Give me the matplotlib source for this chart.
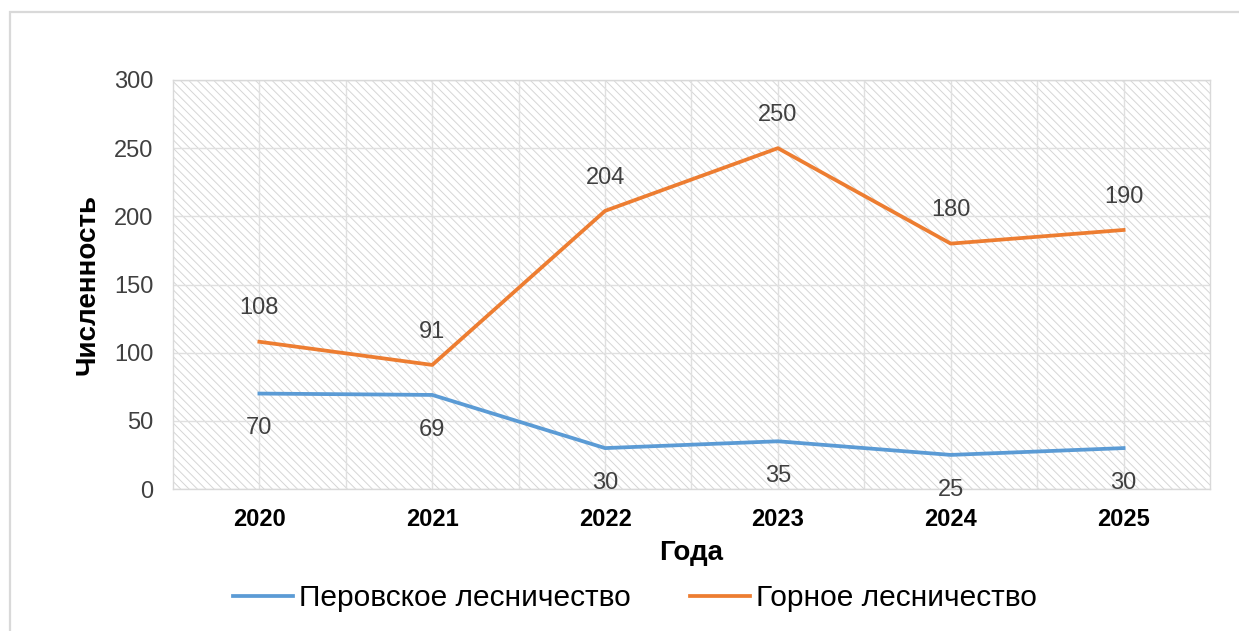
import matplotlib
matplotlib.use('Agg')
import matplotlib.pyplot as plt
from matplotlib.patches import Rectangle

years = ['2020', '2021', '2022', '2023', '2024', '2025']
perovskoe = [70, 69, 30, 35, 25, 30]
gornoe = [108, 91, 204, 250, 180, 190]
series_names = ['Перовское лесничество', 'Горное лесничество']

plt.rcParams['font.family'] = ['Liberation Sans', 'DejaVu Sans']
plt.rcParams['hatch.linewidth'] = 0.7

fig = plt.figure(figsize=(12.39, 6.31), dpi=100)
ax = fig.add_axes([173 / 1239, 1 - 489 / 631, 1037 / 1239, 409 / 631])

# фон с диагональной штриховкой
ax.patch.set_facecolor('white')
ax.patch.set_hatch('\\\\\\\\')
ax.patch.set_edgecolor('#d6d6d6')
ax.patch.set_linewidth(0)

x = list(range(len(years)))
ax.plot(x, perovskoe, color='#5B9BD5', lw=2.7, label=series_names[0], zorder=3)
ax.plot(x, gornoe, color='#ED7D31', lw=2.7, label=series_names[1], zorder=3)

# подписи значений
for i, v in enumerate(perovskoe):
    ax.annotate(str(v), (i, v), xytext=(0, -25), textcoords='offset points',
                ha='center', va='center', fontsize=17, color='#404040')
for i, v in enumerate(gornoe):
    ax.annotate(str(v), (i, v), xytext=(0, 24), textcoords='offset points',
                ha='center', va='center', fontsize=17, color='#404040')

ax.set_xlim(-0.5, len(years) - 0.5)
ax.set_ylim(0, 300)
ax.set_yticks(range(0, 301, 50))
ax.set_xticks(x)
ax.set_xticks([i + 0.5 for i in x[:-1]], minor=True)
ax.set_xticklabels(years, fontsize=17, fontweight='bold', color='black')
ax.tick_params(axis='y', labelsize=17, labelcolor='#404040', length=0, pad=14)
ax.tick_params(axis='x', which='both', length=0, pad=14)

ax.grid(True, which='both', color='#e0e0e0', lw=1, zorder=1)
ax.set_axisbelow(True)
for s in ax.spines.values():
    s.set_color('#d9d9d9')
    s.set_linewidth(1)

ax.set_ylabel('Численность', fontsize=20, fontweight='bold', labelpad=10)
ax.set_xlabel('Года', fontsize=20, fontweight='bold', labelpad=6)

fig.legend(loc='center', bbox_to_anchor=(635 / 1239, 1 - 598 / 631), ncol=2,
           frameon=False, fontsize=21.5, handlelength=2.0, handletextpad=0.2,
           columnspacing=2.0)

# рамка вокруг диаграммы
fig.patches.append(Rectangle((10 / 1239, -0.1), 1.2, 1 - 12 / 631 + 0.1,
                             transform=fig.transFigure, fill=False,
                             edgecolor='#d9d9d9', lw=1.6))

fig.savefig('out.png', dpi=100)
